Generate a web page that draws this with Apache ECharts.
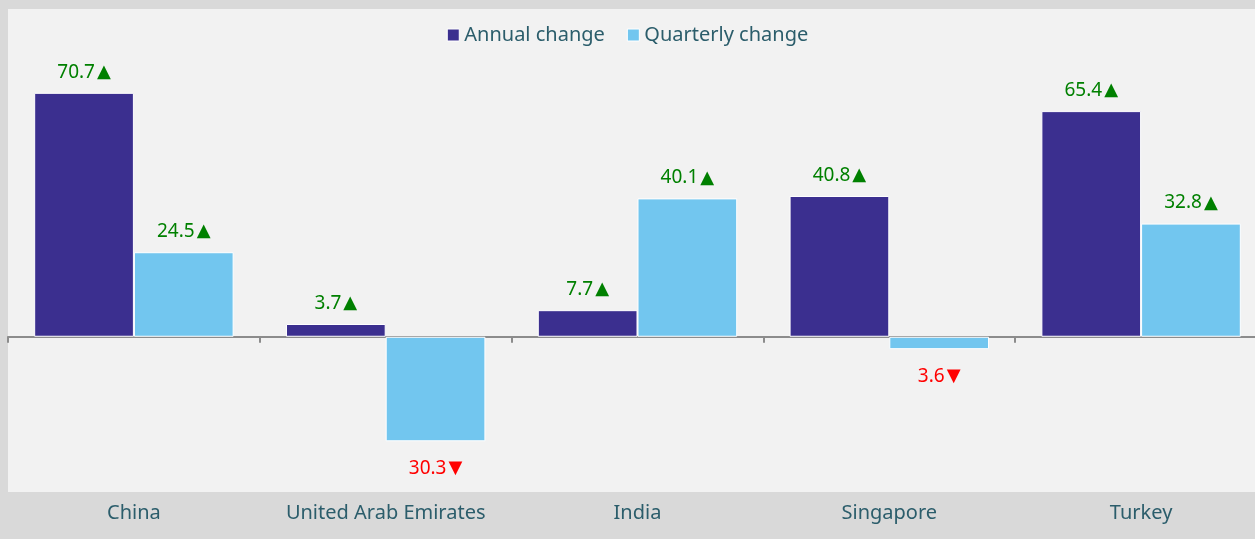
<!DOCTYPE html>
<html lang="en" style="width:100%;height:100%">
<head>
    <meta charset="UTF-8">
    <title>Annual and quarterly change</title>
    <script src="https://cdn.jsdelivr.net/npm/echarts@6.0.0/dist/echarts.min.js"></script>
</head>
<body style="margin:0;width:100%;height:100%;background:#d9d9d9">
<div id="main" style="width:1255px;height:539px"></div>
<script>
    // values
    var countries = ['China', 'United Arab Emirates', 'India', 'Singapore', 'Turkey'];
    var annualChange = [70.7, 3.7, 7.7, 40.8, 65.4];
    var quarterlyChange = [24.5, -30.3, 40.1, -3.6, 32.8];

    var textColor = '#2b5d6b';
    var fontName = 'Noto Sans';

    // up/down arrow labels, negatives go under the bar
    function toItems(list) {
        var out = [];
        for (let i = 0; i < list.length; i++) {
            var v = list[i];
            if (v < 0) {
                out.push({
                    value: v,
                    label: {
                        position: 'bottom',
                        distance: 18,
                        color: '#ff0000',
                        formatter: '{n|' + Math.abs(v).toFixed(1) + '}{dn|\u25BC}'
                    }
                });
            } else {
                out.push({value: v});
            }
        }
        return out;
    }

    var barLabel = {
        show: true,
        position: 'top',
        distance: 11,
        fontFamily: fontName,
        fontSize: 19,
        color: '#008000',
        formatter: function (p) {
            return '{n|' + p.value.toFixed(1) + '}{up|\u25B2}';
        },
        rich: {
            n: {fontFamily: fontName, fontSize: 19},
            up: {fontFamily: 'DejaVu Sans', fontSize: 18, color: '#008000', padding: [0, 0, 0, 2]},
            dn: {fontFamily: 'DejaVu Sans', fontSize: 18, color: '#ff0000', padding: [0, 0, 0, 2]}
        }
    };

    const myChart = echarts.init(document.getElementById('main'));

    const option = {
        backgroundColor: '#d9d9d9',
        animation: false,
        legend: {
            top: 20,
            left: 'center',
            itemWidth: 12,
            itemHeight: 12,
            itemGap: 22,
            icon: 'rect',
            textStyle: {color: textColor, fontFamily: fontName, fontSize: 20},
            itemStyle: {borderColor: '#ffffff', borderWidth: 1},
            data: ['Annual change', 'Quarterly change']
        },
        grid: {
            left: 8,
            top: 9,
            width: 1259,
            height: 483,
            show: true,
            backgroundColor: '#f2f2f2',
            borderWidth: 0,
            containLabel: false,
            outerBoundsMode: 'none'
        },
        xAxis: {
            type: 'category',
            data: countries,
            axisLine: {onZero: true, lineStyle: {color: '#8c8c8c', width: 2}},
            axisTick: {show: true, length: 6, inside: false, lineStyle: {color: '#8c8c8c', width: 2}},
            axisLabel: {
                color: textColor,
                fontFamily: fontName,
                fontSize: 20,
                margin: 11,
                interval: 0
            }
        },
        yAxis: {
            type: 'value',
            min: -45,
            max: 95,
            show: false,
            splitLine: {show: false}
        },
        series: [
            {
                name: 'Annual change',
                type: 'bar',
                barWidth: '39.6%',
                barGap: '0%',
                itemStyle: {color: '#3b2f8f', borderColor: '#ffffff', borderWidth: 1},
                label: barLabel,
                data: toItems(annualChange)
            },
            {
                name: 'Quarterly change',
                type: 'bar',
                barWidth: '39.6%',
                barGap: '0%',
                itemStyle: {color: '#72c6ef', borderColor: '#ffffff', borderWidth: 1},
                label: barLabel,
                data: toItems(quarterlyChange)
            }
        ]
    };

    myChart.setOption(option);
</script>
</body>
</html>
